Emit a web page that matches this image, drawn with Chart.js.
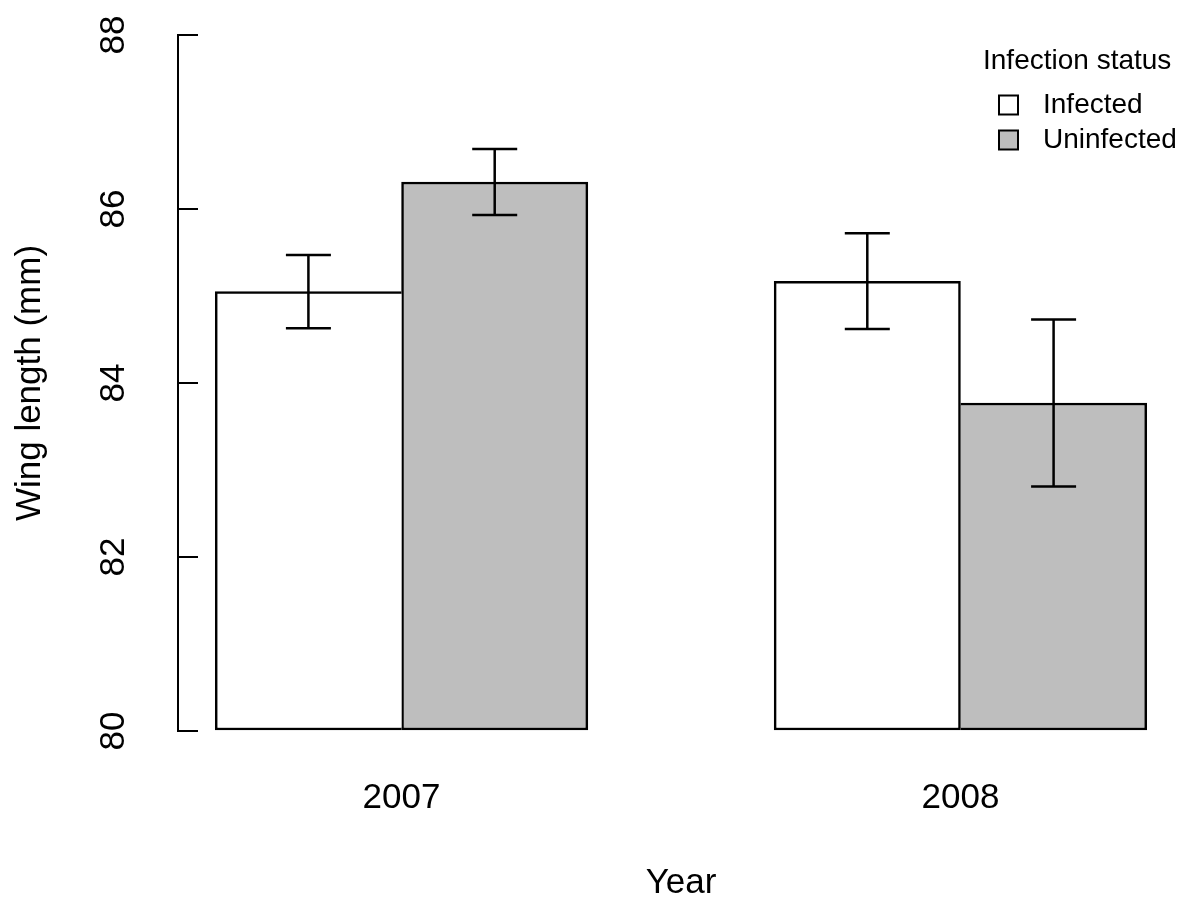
<!DOCTYPE html>
<html>
<head>
<meta charset="utf-8">
<script src="https://cdn.jsdelivr.net/npm/chart.js@4"></script>
<style>
  html, body { margin: 0; padding: 0; background: #fff; }
  #wrap { width: 1200px; height: 907px; }
</style>
</head>
<body>
<div id="wrap"><canvas id="chart" width="1200" height="907"></canvas></div>
<script>
// values
const years = ['2007', '2008'];
const infected = [85.05, 85.17];
const uninfected = [86.31, 83.77];
const infectedErr = [0.42, 0.55];
const uninfectedErr = [0.38, 0.96];

const yTicks = [80, 82, 84, 86, 88];
const yMin = 80, yMax = 88;

const FONT = 'Liberation Sans, Arial, Helvetica, sans-serif';
const LW = 2.5;

// R barplot layout: each group = 1 unit space + 2 bars of width 1
const groupCenter = i => i * 3 + 2;

const errorBars = {
  id: 'errorBars',
  afterDatasetsDraw(chart) {
    const ctx = chart.ctx;
    const y = chart.scales.y;
    ctx.save();
    ctx.strokeStyle = '#000';
    ctx.lineWidth = LW;
    chart.data.datasets.forEach((ds, di) => {
      const meta = chart.getDatasetMeta(di);
      meta.data.forEach((bar, i) => {
        const v = ds.data[i].y, e = ds.err[i];
        const top = y.getPixelForValue(v + e);
        const bot = y.getPixelForValue(v - e);
        ctx.beginPath();
        ctx.moveTo(bar.x, top); ctx.lineTo(bar.x, bot);
        ctx.moveTo(bar.x - 22.5, top); ctx.lineTo(bar.x + 22.5, top);
        ctx.moveTo(bar.x - 22.5, bot); ctx.lineTo(bar.x + 22.5, bot);
        ctx.stroke();
      });
    });
    ctx.restore();
  }
};

// legend drawn in the top right corner of the plot, like R's legend()
const cornerLegend = {
  id: 'cornerLegend',
  afterDraw(chart) {
    const ctx = chart.ctx;
    ctx.save();
    ctx.font = '28px ' + FONT;
    ctx.fillStyle = '#000';
    ctx.textBaseline = 'middle';
    ctx.textAlign = 'left';
    ctx.fillText('Infection status', 983, 61);
    chart.data.datasets.forEach((ds, i) => {
      const cy = 105 + i * 35;
      ctx.fillStyle = ds.backgroundColor;
      ctx.fillRect(999, cy - 9.5, 19, 19);
      ctx.lineWidth = 2;
      ctx.strokeStyle = '#000';
      ctx.strokeRect(999, cy - 9.5, 19, 19);
      ctx.fillStyle = '#000';
      ctx.fillText(ds.label, 1043, cy);
    });
    ctx.restore();
  }
};

// the shared edge of two touching bars is drawn once, by the taller bar
const infectedTaller = i => infected[i] > uninfected[i];

new Chart(document.getElementById('chart'), {
  type: 'bar',
  data: {
    datasets: [
      {
        label: 'Infected',
        data: infected.map((v, i) => ({ x: groupCenter(i) - 0.5, y: v })),
        err: infectedErr,
        backgroundColor: '#FFFFFF',
        borderWidth: c => ({ top: LW, left: LW, bottom: LW, right: infectedTaller(c.dataIndex) ? LW : 0 })
      },
      {
        label: 'Uninfected',
        data: uninfected.map((v, i) => ({ x: groupCenter(i) + 0.5, y: v })),
        err: uninfectedErr,
        backgroundColor: '#BEBEBE',
        borderWidth: c => ({ top: LW, right: LW, bottom: LW, left: infectedTaller(c.dataIndex) ? 0 : LW })
      }
    ]
  },
  options: {
    responsive: false,
    animation: false,
    devicePixelRatio: 1,
    layout: { padding: { top: 35, right: 16, left: 0, bottom: 0 } },
    datasets: {
      bar: {
        grouped: false,
        base: yMin,
        barPercentage: 1,
        categoryPercentage: 1,
        borderColor: '#000',
        borderSkipped: false
      }
    },
    plugins: {
      legend: { display: false },
      tooltip: { enabled: false }
    },
    scales: {
      x: {
        type: 'linear',
        min: 0.8,
        max: 6.2,
        offset: false,
        afterBuildTicks: s => { s.ticks = years.map((_, i) => ({ value: groupCenter(i) })); },
        afterFit: s => { s.height = 176; s.paddingLeft = 0; s.paddingRight = 0; },
        grid: { display: false },
        border: { display: false },
        ticks: {
          color: '#000',
          font: { family: FONT, size: 35 },
          padding: 38,
          maxRotation: 0,
          autoSkip: false,
          callback: v => years[(v - 2) / 3]
        },
        title: {
          display: true,
          text: 'Year',
          color: '#000',
          font: { family: FONT, size: 35 },
          padding: { top: 0, bottom: 3 }
        }
      },
      y: {
        min: yMin,
        max: yMax,
        beginAtZero: false,
        afterBuildTicks: s => { s.ticks = yTicks.map(v => ({ value: v })); },
        afterFit: s => { s.width = 178; s.paddingTop = 0; s.paddingBottom = 0; },
        grid: {
          drawOnChartArea: false,
          drawTicks: true,
          tickLength: -20,
          color: '#000',
          lineWidth: 2
        },
        border: { display: true, color: '#000', width: 2 },
        ticks: {
          color: '#000',
          font: { family: FONT, size: 35 },
          minRotation: 90,
          maxRotation: 90,
          crossAlign: 'center',
          padding: 64
        },
        title: {
          display: true,
          text: 'Wing length (mm)',
          color: '#000',
          font: { family: FONT, size: 35 },
          padding: { top: 9, bottom: 0 }
        }
      }
    }
  },
  plugins: [errorBars, cornerLegend]
});
</script>
</body>
</html>
